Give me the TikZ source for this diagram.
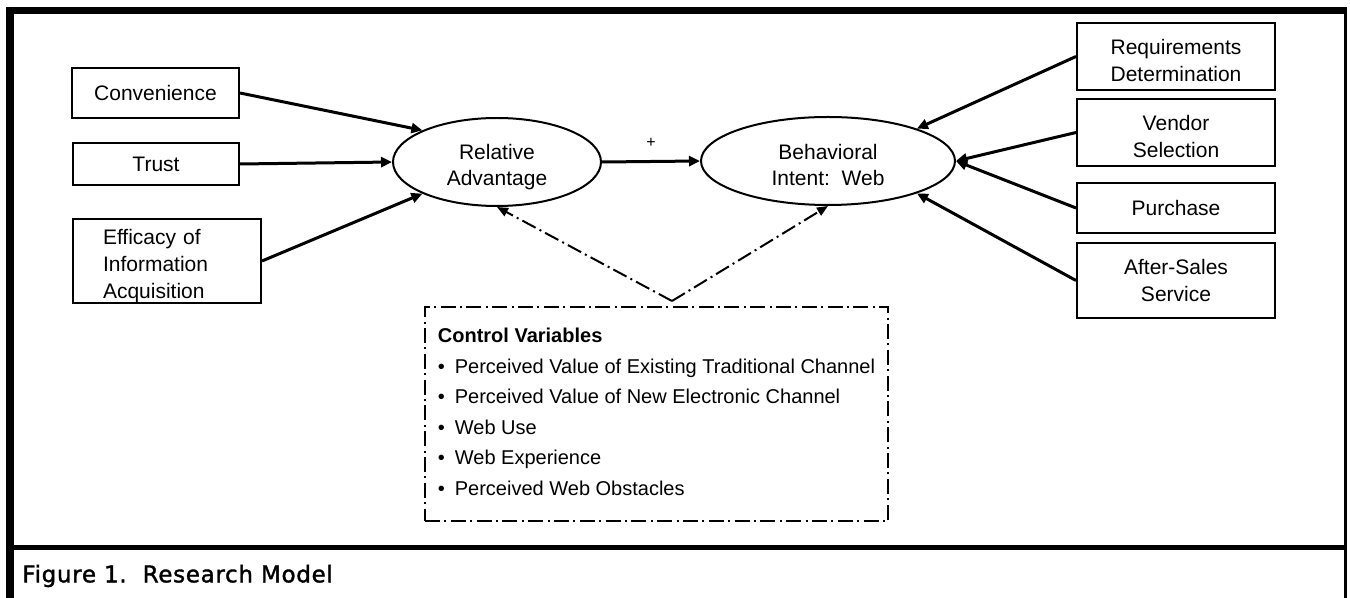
\documentclass[tikz,border=0pt]{standalone}
\usepackage{fontspec}
\setmainfont{Liberation Sans}
\newfontfamily\capfont[LetterSpace=3, FakeBold=1.5]{DejaVu Sans}
\usetikzlibrary{positioning,arrows.meta,shapes.geometric}
\newcommand{\topgap}[1]{\rule{0pt}{#1}}

\begin{document}
\begin{tikzpicture}[x=0.5pt, y=-0.5pt,
  box/.style={draw, line width=1pt, align=center, inner sep=1mm,
              font=\fontsize{10.5}{13.5}\selectfont},
  wide/.style={minimum width=99pt},
  latent/.style={draw, ellipse, line width=1pt, inner sep=0pt, align=center,
              minimum height=44pt, font=\fontsize{10.5}{13}\selectfont},
  link/.style={line width=1.5pt, -{Triangle[length=5.5pt, width=5pt]}},
  dashdot/.style={line width=1pt, dash pattern=on 7.5pt off 2.2pt on 1pt off 2.2pt},
  ctrllink/.style={dashdot, -{Triangle[length=5.5pt, width=4.5pt]}}
]
\useasboundingbox (0,0) rectangle (1350,598);

\node[box, minimum width=83.5pt, minimum height=25pt] (conv) at (155.5,93) {Convenience};
\node[box, minimum width=83pt, minimum height=21pt] (trust) at (156,164) {Trust};
\node[box, align=left, text width=64pt, inner xsep=15pt, inner ysep=0pt,
      minimum height=42pt] (effic) at (167,261) {\topgap{12.2pt}Efficacy of\\Information\\Acquisition};

\node[latent, minimum width=104pt] (RA) at (497,162) {\topgap{12.6pt}Relative\\Advantage};
\node[latent, minimum width=127pt] (BI) at (828,161) {\topgap{11.6pt}Behavioral\\Intent:\ \ Web};

\node[box, wide, minimum height=33.5pt] (req) at (1176,56.5) {\topgap{11.6pt}Requirements\\Determination};
\node[box, wide, minimum height=33.5pt, below=3.5pt of req] (vend) {\topgap{11.6pt}Vendor\\Selection};
\node[box, wide, minimum height=25pt, below=7.5pt of vend] (purch) {Purchase};
\node[box, wide, minimum height=37.5pt, below=4pt of purch] (after) {After-Sales\\Service};

\node[draw, dashdot, align=left, inner xsep=6pt, minimum width=231.5pt,
      minimum height=107pt, font=\fontsize{10}{15.25}\selectfont] (ctrl) at (656.5,414) {%
  {\bfseries Control Variables}\\
  \makebox[8.5pt][l]{\textbullet}Perceived Value of Existing Traditional Channel\\
  \makebox[8.5pt][l]{\textbullet}Perceived Value of New Electronic Channel\\
  \makebox[8.5pt][l]{\textbullet}Web Use\\
  \makebox[8.5pt][l]{\textbullet}Web Experience\\
  \makebox[8.5pt][l]{\textbullet}Perceived Web Obstacles\rule[-2pt]{0pt}{2pt}};
\coordinate (apex) at ([xshift=7.75pt, yshift=2.5pt]ctrl.north);

\draw[link] (conv.east) -- (RA.157);
\draw[link] (trust.east) -- (RA.west);
\draw[link] (effic.east) -- (RA.203);
\draw[link] (RA.east) -- node[above=3pt, font=\fontsize{8}{9}\selectfont] (plus) {+} (BI.west);
\draw[link] (req.west) -- (BI.20);
\draw[link] (vend.west) -- (BI.east);
\draw[link] (purch.west) -- (BI.east);
\draw[link] (after.west) -- (BI.340);
\draw[ctrllink] (apex) -- (RA.south);
\draw[ctrllink] (apex) -- (BI.south);

\draw[line width=3.5pt] (6,10.5) -- (1347,10.5);
\draw[line width=4pt] (10,7) -- (10,598);
\draw[line width=1.5pt] (1345,10) -- (1345,598);
\draw[line width=2.5pt] (10,548) -- (1345,548);

\node[anchor=west, inner sep=0pt, font=\capfont\fontsize{11.5}{13}\selectfont] (caption)
  at (22,576) {Figure 1.\ \ Research Model};

\end{tikzpicture}
\end{document}
